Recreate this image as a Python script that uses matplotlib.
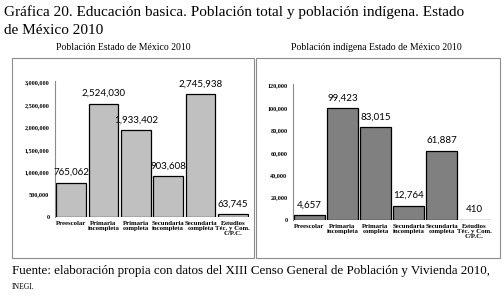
import matplotlib
matplotlib.use("Agg")
import matplotlib.pyplot as plt
from matplotlib.patches import Rectangle
from matplotlib.ticker import FuncFormatter

categories = ["Preescolar", "Primaria\nincompleta", "Primaria\ncompleta",
              "Secundaria\nincompleta", "Secundaria\ncompleta", "Estudios\nTéc. y Com.\nC/P.C."]
total_values = [765062, 2524030, 1933402, 903608, 2745938, 63745]
indigena_values = [4657, 99423, 83015, 12764, 61887, 410]
total_ticks = [0, 500000, 1000000, 1500000, 2000000, 2500000, 3000000]
indigena_ticks = [0, 20000, 40000, 60000, 80000, 100000, 120000]

title1 = "Gráfica 20. Educación basica. Población total y población indígena. Estado"
title2 = "de México 2010"
sub_left = "Población Estado de México 2010"
sub_right = "Población indígena Estado de México 2010"
footer = "Fuente: elaboración propia con datos del XIII Censo General de Población y Vivienda 2010,"
footer2 = "INEGI."

W, H = 504, 297
fig = plt.figure(figsize=(W / 100, H / 100), dpi=100)
serif = ["Liberation Serif", "DejaVu Serif"]
narrow = ["Lato", "DejaVu Sans"]

def fx(px):
    return px / W

def fy(py):
    return 1 - py / H

# panel boxes
for x0, x1 in [(12, 254), (256, 500)]:
    fig.patches.append(Rectangle((fx(x0), fy(258)), fx(x1 - x0), (258 - 58) / H,
                                 transform=fig.transFigure, fill=False,
                                 edgecolor="#8c8c8c", linewidth=0.8))

fig.text(fx(4), fy(12), title1, family=serif, fontsize=11, va="center", ha="left")
fig.text(fx(4), fy(31), title2, family=serif, fontsize=11, va="center", ha="left")
fig.text(fx(123), fy(47), sub_left, family=serif, fontsize=7, va="center", ha="center")
fig.text(fx(376), fy(47), sub_right, family=serif, fontsize=7, va="center", ha="center")
fig.text(fx(12), fy(271), footer, family=serif, fontsize=9.4, va="center", ha="left")
fig.text(fx(12), fy(287), footer2, family=serif, fontsize=5.5, va="center", ha="left")

def panel(x0, x1, y0, ytop, values, ticks, color):
    ax = fig.add_axes([fx(x0), fy(y0), fx(x1 - x0), (y0 - ytop) / H])
    xs = range(len(values))
    ax.bar(xs, values, width=0.92, color=color, edgecolor="black", linewidth=0.9)
    ax.set_xlim(-0.5, len(values) - 0.5)
    ax.set_ylim(0, ticks[-1] * 1.01)
    ax.set_yticks(ticks)
    ax.yaxis.set_major_formatter(FuncFormatter(lambda v, p: f"{int(v):,}"))
    ax.set_xticks(list(xs))
    ax.set_xticklabels(categories, family=serif, fontsize=4.9, fontweight="bold",
                       linespacing=1.0)
    for lab in ax.get_yticklabels():
        lab.set_family(serif)
        lab.set_fontsize(4.4)
        lab.set_fontweight("bold")
    ax.tick_params(axis="both", length=0)
    ax.tick_params(axis="y", pad=4)
    ax.tick_params(axis="x", pad=3)
    for s in ["top", "right", "bottom"]:
        ax.spines[s].set_visible(False)
    ax.spines["left"].set_color("#8c8c8c")
    ax.spines["left"].set_linewidth(0.8)
    ax.patch.set_alpha(0)
    for x, v in zip(xs, values):
        ax.annotate(f"{v:,}", (x, v), xytext=(0, 4), textcoords="offset points",
                    ha="center", va="bottom", family=narrow, fontsize=7)
    return ax

panel(55, 249, 217, 81, total_values, total_ticks, "#c0c0c0")
panel(293, 491, 220, 84, indigena_values, indigena_ticks, "#808080")

fig.savefig("out.png", dpi=100)
